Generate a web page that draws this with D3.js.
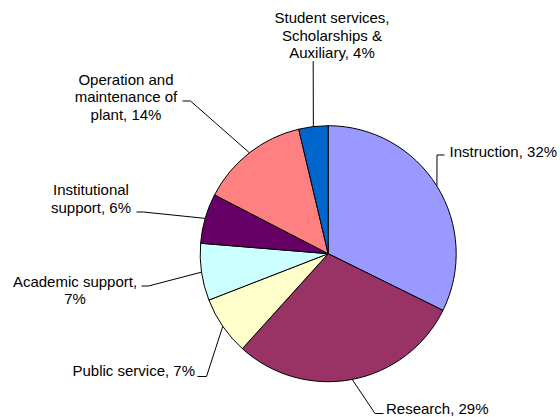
<!DOCTYPE html>
<html>
<head>
<meta charset="utf-8">
<script src="https://cdn.jsdelivr.net/npm/d3@7"></script>
<style>
  html, body { margin: 0; padding: 0; background: #fff; }
  svg { display: block; }
  text { font-family: "Liberation Sans", Arial, sans-serif; font-size: 15px; fill: #000; }
</style>
</head>
<body>
<div id="chart"></div>
<script>
const width = 560;
const height = 417;

// slices, clockwise from 12 o'clock
const categories = ['Instruction', 'Research', 'Public service', 'Academic support',
  'Institutional support', 'Operation and maintenance of plant',
  'Student services, Scholarships & Auxiliary'];
const values = [32.3, 29.4, 7.4, 7.2, 6.3, 13.7, 3.7];
const colors = ['#9999ff', '#993366', '#ffffcc', '#ccffff', '#660066', '#ff8080', '#0066cc'];

// how each data label wraps, {p} is the percentage
const labelLines = [
  ['Instruction, {p}'],
  ['Research, {p}'],
  ['Public service, {p}'],
  ['Academic support,', '{p}'],
  ['Institutional', 'support, {p}'],
  ['Operation and', 'maintenance of', 'plant, {p}'],
  ['Student services,', 'Scholarships &', 'Auxiliary, {p}']
];

const cx = 328.2, cy = 253.7, radius = 128;
const lineHeight = 17.5;

// label placement: text anchor point and where the leader line leaves the label
const labelLayout = [
  { x: 449.5, y: 156.5, anchor: 'start',  attach: [444.5, 155],   elbow: [437, 155] },
  { x: 386,   y: 414,   anchor: 'start',  attach: [383.5, 413.5], elbow: [375, 413.5] },
  { x: 195,   y: 376,   anchor: 'end',    attach: [197.5, 376.5], elbow: [206.5, 376.5] },
  { x: 75,    y: 286.5, anchor: 'middle', attach: [141.5, 286],   elbow: [148.5, 286] },
  { x: 91,    y: 195,   anchor: 'middle', attach: [136.5, 212],   elbow: [143.5, 212] },
  { x: 126,   y: 84.5,  anchor: 'middle', attach: [182.5, 101],   elbow: [190.5, 101] },
  { x: 332,   y: 23,    anchor: 'middle', attach: [313.2, 61],    elbow: [313.2, 61] }
];

const total = d3.sum(values);
const pctText = (v) => Math.round(v / total * 100) + '%';

const svg = d3.select('#chart')
  .append('svg')
  .attr('width', width)
  .attr('height', height);

const pie = d3.pie().sort(null).value((d) => d);
const arcs = pie(values);

const arc = d3.arc().innerRadius(0).outerRadius(radius);

const g = svg.append('g').attr('transform', `translate(${cx},${cy})`);

g.selectAll('path.slice')
  .data(arcs)
  .join('path')
  .attr('class', 'slice')
  .attr('d', arc)
  .attr('fill', (d, i) => colors[i])
  .attr('stroke', '#000')
  .attr('stroke-width', 1)
  .attr('stroke-linejoin', 'round');

// leader lines: label -> elbow -> slice edge at the middle angle
const line = d3.line();
svg.append('g')
  .selectAll('path.leader')
  .data(arcs)
  .join('path')
  .attr('class', 'leader')
  .attr('fill', 'none')
  .attr('stroke', '#000')
  .attr('stroke-width', 1)
  .attr('d', (d, i) => {
    const a = (d.startAngle + d.endAngle) / 2;
    const edge = [cx + radius * Math.sin(a), cy - radius * Math.cos(a)];
    const l = labelLayout[i];
    return line([l.attach, l.elbow, edge]);
  });

const labels = svg.append('g')
  .selectAll('text.label')
  .data(arcs)
  .join('text')
  .attr('class', 'label')
  .attr('x', (d, i) => labelLayout[i].x)
  .attr('y', (d, i) => labelLayout[i].y)
  .attr('text-anchor', (d, i) => labelLayout[i].anchor);

labels.each(function (d, i) {
  const t = d3.select(this);
  labelLines[i].forEach((s, k) => {
    t.append('tspan')
      .attr('x', labelLayout[i].x)
      .attr('y', labelLayout[i].y + k * lineHeight)
      .text(s.replace('{p}', pctText(d.value)));
  });
});
</script>
</body>
</html>
